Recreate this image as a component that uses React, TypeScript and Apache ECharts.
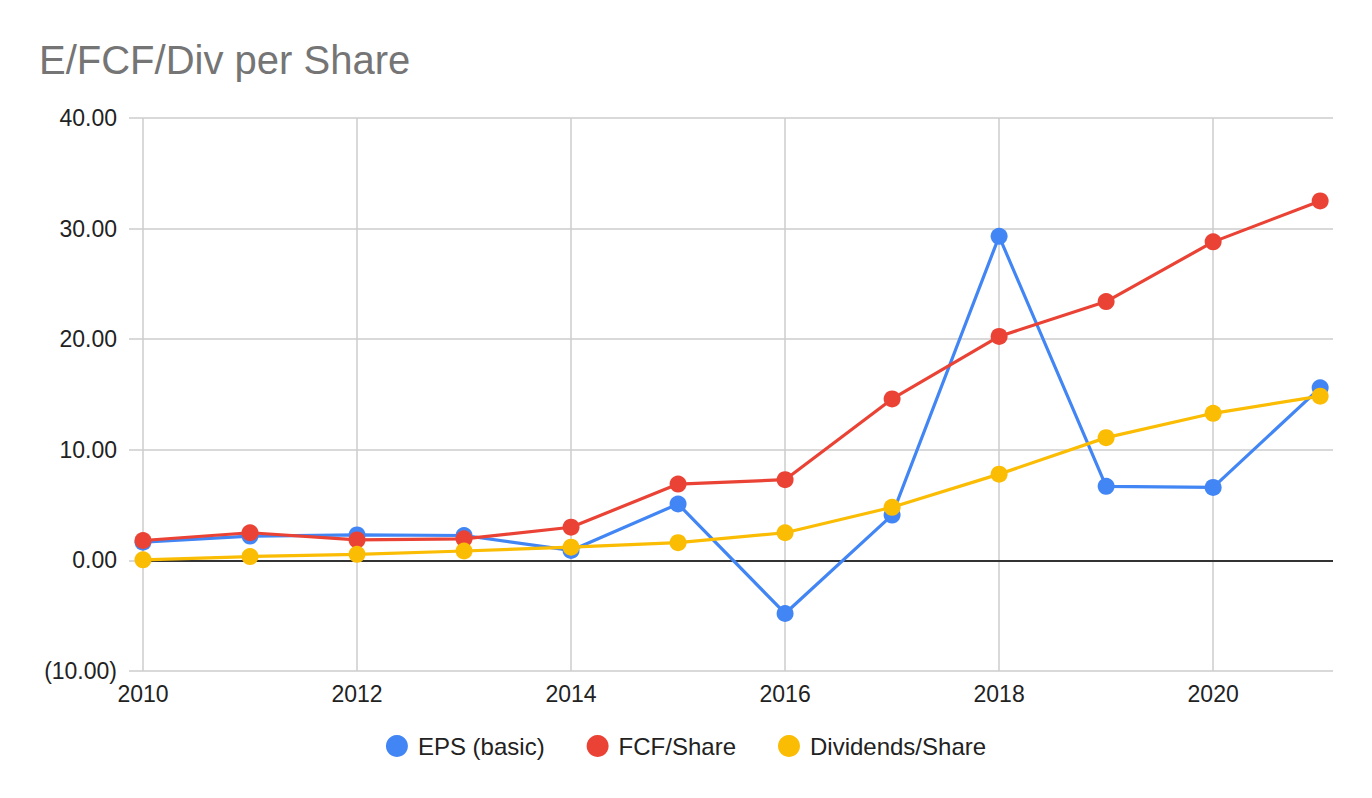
import React, { useEffect, useRef } from "react";
import * as echarts from "echarts";

const years = [2010, 2011, 2012, 2013, 2014, 2015, 2016, 2017, 2018, 2019, 2020, 2021];
const epsBasic = [1.65, 2.2, 2.3, 2.25, 0.9, 5.1, -4.8, 4.1, 29.3, 6.7, 6.6, 15.6];
const fcfShare = [1.8, 2.5, 1.85, 1.95, 3.0, 6.9, 7.3, 14.6, 20.25, 23.4, 28.8, 32.5];
const divShare = [0.05, 0.35, 0.55, 0.85, 1.2, 1.6, 2.5, 4.8, 7.8, 11.1, 13.3, 14.85];

const seriesNames = ["EPS (basic)", "FCF/Share", "Dividends/Share"];
const seriesColors = ["#4285F4", "#EA4335", "#FBBC04"];
const titleText = "E/FCF/Div per Share";

const FONT = "'Liberation Sans', Arial, sans-serif";

export default function App() {
  const ref = useRef<HTMLDivElement>(null);
  useEffect(() => {
    if (!ref.current) return;
    const chart = echarts.init(ref.current, undefined, { renderer: "svg" });
    const datasets = [epsBasic, fcfShare, divShare];
    const series: any[] = datasets.map((vals, i) => ({
      name: seriesNames[i],
      type: "line",
      data: years.map((y, j) => [y, vals[j]]),
      symbol: "circle",
      symbolSize: 17,
      showSymbol: true,
      itemStyle: { color: seriesColors[i] },
      lineStyle: { color: seriesColors[i], width: 3.2 },
      z: 3 + i,
    }));
    series[0].markLine = {
      symbol: "none",
      silent: true,
      label: { show: false },
      lineStyle: { color: "#333333", width: 1.8, type: "solid" },
      data: [{ yAxis: 0 }],
      z: 1,
    };
    chart.setOption({
      animation: false,
      backgroundColor: "#ffffff",
      textStyle: { fontFamily: FONT },
      title: {
        text: titleText,
        left: 34,
        top: 35,
        textStyle: { fontFamily: FONT, fontSize: 40, fontWeight: "normal", color: "#757575" },
      },
      legend: {
        data: seriesNames,
        top: 729,
        left: "center",
        icon: "circle",
        itemWidth: 22,
        itemHeight: 22,
        itemGap: 42,
        textStyle: { fontFamily: FONT, fontSize: 24, color: "#222222", padding: [0, 0, 0, 5] },
      },
      grid: { left: 143, right: 39, top: 118, bottom: 127, containLabel: false },
      xAxis: {
        type: "value",
        min: 2010,
        max: 2021.12,
        interval: 2,
        axisLine: { show: false, onZero: false },
        axisTick: { show: false },
        splitLine: { show: true, showMaxLine: false, lineStyle: { color: "#cccccc", width: 1.5 } },
        axisLabel: {
          fontFamily: FONT,
          fontSize: 23,
          color: "#222222",
          margin: 11,
          showMaxLabel: false,
          formatter: (v: number) => (Number.isInteger(v) ? String(v) : ""),
        },
      },
      yAxis: {
        type: "value",
        min: -10,
        max: 40,
        interval: 10,
        axisLine: { show: false },
        axisTick: { show: true, length: 14, lineStyle: { color: "#cccccc", width: 1.5 } },
        splitLine: { show: true, lineStyle: { color: "#cccccc", width: 1.5 } },
        axisLabel: {
          fontFamily: FONT,
          fontSize: 23,
          color: "#222222",
          margin: 26,
          formatter: (v: number) => (v < 0 ? `(${Math.abs(v).toFixed(2)})` : v.toFixed(2)),
        },
      },
      series,
    });
    return () => chart.dispose();
  }, []);
  return (
    <div
      ref={ref}
      style={{ position: "fixed", left: 0, top: 0, width: "1372px", height: "798px" }}
    />
  );
}
